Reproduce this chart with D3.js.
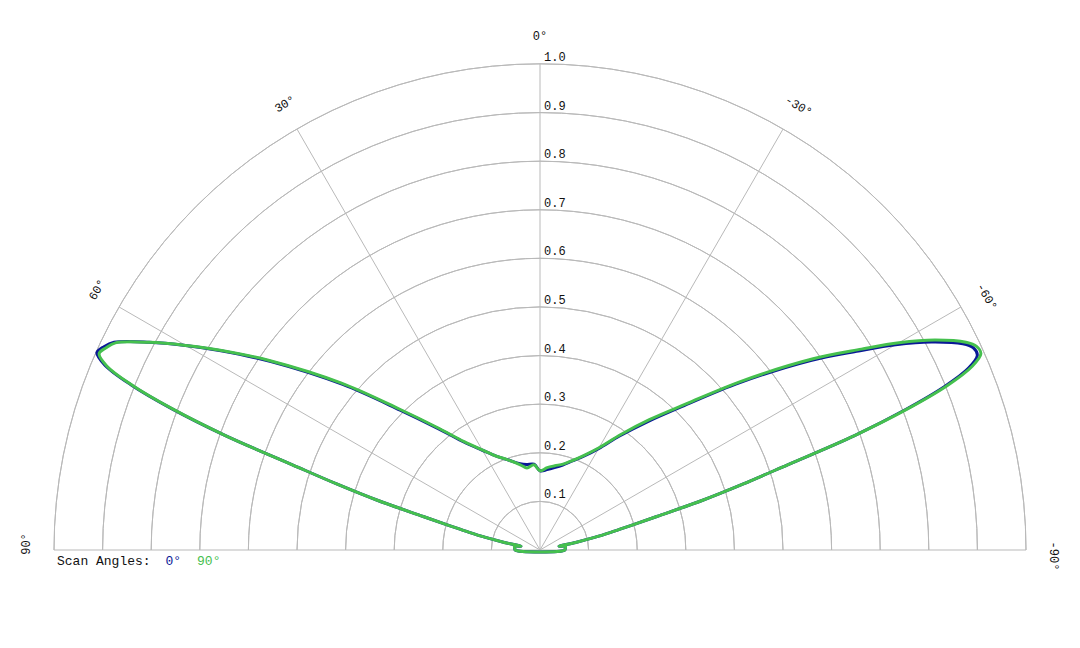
<!DOCTYPE html>
<html>
<head>
<meta charset="utf-8">
<script src="https://cdn.jsdelivr.net/npm/d3@7"></script>
<style>
  body { margin: 0; background: #fff; }
  text { font-family: "Courier New", "Liberation Mono", monospace; }
</style>
</head>
<body>
<svg id="polar" width="1080" height="648"></svg>
<script>
const svg = d3.select('#polar');

// scan angle (deg), positive = left side
const angles = [-90, -86, -82, -79, -78, -77, -76, -75, -74, -73, -72, -71, -70, -69, -68, -67, -66, -65, -64, -62,
  -60, -58, -55, -50, -45, -40, -35, -30, -25, -20, -15, -10, -5, 0, 4, 9, 13, 20, 25, 30,
  35, 40, 45, 50, 55, 58, 60, 62, 64, 65, 66, 67, 68, 69, 70, 71, 72, 73, 74, 75,
  76, 77, 78, 79, 82, 86, 90];

// relative intensity, scan angle 0°
const scan0 = [0.051, 0.052, 0.053, 0.040, 0.075, 0.115, 0.150, 0.190, 0.250, 0.350, 0.440, 0.540, 0.690, 0.805, 0.898, 0.958, 0.985, 0.984, 0.968, 0.912,
  0.845, 0.773, 0.680, 0.535, 0.421, 0.345, 0.287, 0.241, 0.213, 0.195, 0.181, 0.172, 0.166, 0.163, 0.177, 0.178, 0.182, 0.198, 0.213, 0.237,
  0.270, 0.326, 0.407, 0.530, 0.676, 0.774, 0.842, 0.911, 0.975, 0.990, 0.998, 0.972, 0.908, 0.812, 0.690, 0.540, 0.440, 0.350, 0.250, 0.190,
  0.150, 0.115, 0.075, 0.040, 0.053, 0.052, 0.051];

// relative intensity, scan angle 90°
const scan90 = [0.051, 0.052, 0.053, 0.040, 0.075, 0.115, 0.150, 0.190, 0.250, 0.350, 0.440, 0.540, 0.690, 0.810, 0.905, 0.965, 0.993, 0.991, 0.975, 0.920,
  0.853, 0.780, 0.686, 0.540, 0.425, 0.350, 0.290, 0.243, 0.215, 0.196, 0.183, 0.176, 0.170, 0.163, 0.176, 0.171, 0.180, 0.198, 0.213, 0.238,
  0.272, 0.329, 0.411, 0.535, 0.680, 0.776, 0.842, 0.910, 0.972, 0.985, 0.993, 0.968, 0.905, 0.810, 0.690, 0.540, 0.440, 0.350, 0.250, 0.190,
  0.150, 0.115, 0.075, 0.040, 0.053, 0.052, 0.051];

const rTicks = [0.1, 0.2, 0.3, 0.4, 0.5, 0.6, 0.7, 0.8, 0.9, 1.0];
const spokeAngles = [90, 60, 30, 0, -30, -60, -90];
const spokeLabels = ['90°', '60°', '30°', '0°', '-30°', '-60°', '-90°'];

const series = [
  { name: '0°', values: scan0, color: '#0a1896' },
  { name: '90°', values: scan90, color: '#45c04e' }
];

const cx = 540, cy = 550, radius = 486;

const rScale = d3.scaleLinear().domain([0, 1]).range([0, radius]);
// left positive angles -> counter-clockwise from the top
const aScale = d3.scaleLinear().domain([-90, 90]).range([Math.PI / 2, -Math.PI / 2]);

const g = svg.append('g').attr('transform', `translate(${cx}, ${cy})`);

// rings
const ring = d3.arc().startAngle(-Math.PI / 2).endAngle(Math.PI / 2);
g.selectAll('.ring').data(rTicks)
  .enter().append('path')
  .attr('class', 'ring')
  .attr('d', d => ring({ innerRadius: rScale(d), outerRadius: rScale(d) }))
  .attr('fill', 'none')
  .attr('stroke', '#b9b9b9')
  .attr('stroke-width', 1);

// spokes
g.selectAll('.spoke').data(spokeAngles)
  .enter().append('line')
  .attr('x1', 0).attr('y1', 0)
  .attr('x2', d => rScale(1) * Math.sin(aScale(d)))
  .attr('y2', d => -rScale(1) * Math.cos(aScale(d)))
  .attr('stroke', '#b9b9b9')
  .attr('stroke-width', 1);

// radial tick labels
g.selectAll('.rlabel').data(rTicks)
  .enter().append('text')
  .attr('x', 4)
  .attr('y', d => -rScale(d) - 3)
  .attr('font-size', '12px')
  .attr('fill', '#111')
  .text(d => d.toFixed(1));

// angle labels, written along the circle
g.selectAll('.alabel').data(spokeAngles)
  .enter().append('text')
  .attr('transform', d => {
    const a = aScale(d);
    const x = (radius + 27) * Math.sin(a);
    const y = -(radius + 27) * Math.cos(a);
    return `translate(${x}, ${y}) rotate(${-d})`;
  })
  .attr('dx', d => Math.abs(d) / 15)
  .attr('text-anchor', 'middle')
  .attr('dominant-baseline', 'central')
  .attr('font-size', '12px')
  .attr('fill', '#111')
  .text((d, i) => spokeLabels[i]);

// curves
const line = d3.lineRadial()
  .angle(d => aScale(d[0]))
  .radius(d => rScale(d[1]))
  .curve(d3.curveCatmullRomClosed.alpha(0.5));

g.selectAll('.curve').data(series)
  .enter().append('path')
  .attr('d', s => line(angles.map((a, i) => [a, s.values[i]])))
  .attr('fill', 'none')
  .attr('stroke', s => s.color)
  .attr('stroke-width', 3)
  .attr('stroke-linejoin', 'round');

// legend
const legend = svg.append('text')
  .attr('x', 57)
  .attr('y', 565)
  .attr('font-size', '13px')
  .attr('fill', '#111')
  .attr('xml:space', 'preserve');
legend.append('tspan').text('Scan Angles: ');
series.forEach((s, i) => {
  legend.append('tspan')
    .attr('dx', i === 0 ? 7 : 16)
    .attr('fill', s.color)
    .text(s.name);
});
</script>
</body>
</html>
